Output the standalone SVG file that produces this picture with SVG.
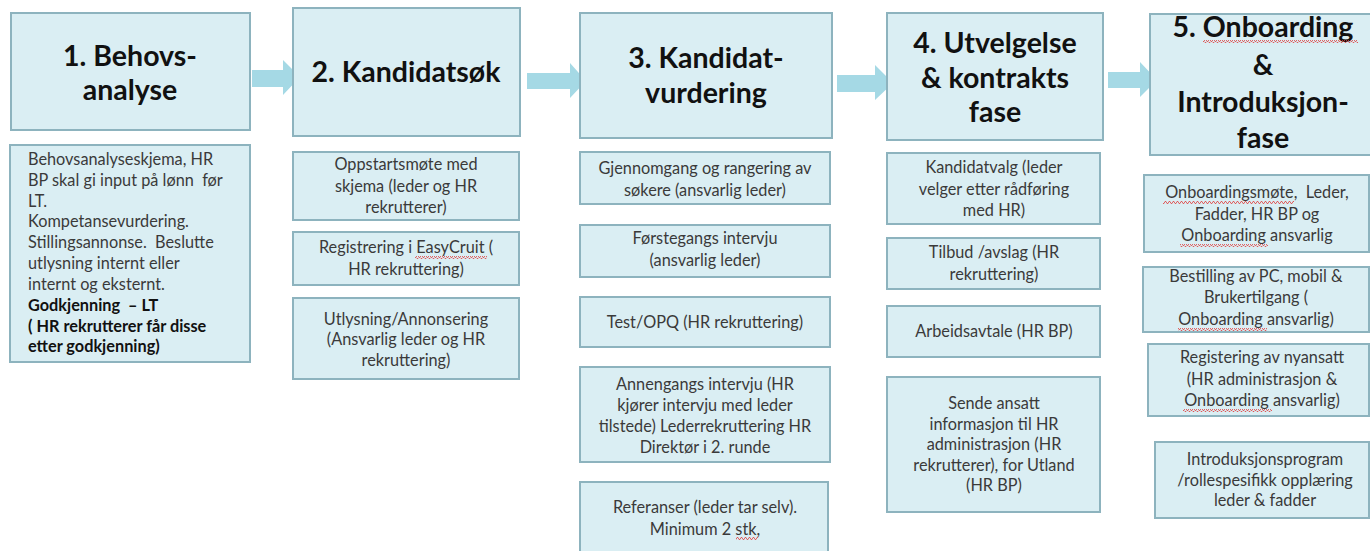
<svg xmlns="http://www.w3.org/2000/svg" width="1370" height="551" viewBox="0 0 1370 551">
<style>
.box{fill:#daeef3;stroke:#8db3be;stroke-width:2}
.arrow{fill:#a5d9e5}
text{white-space:pre}
.h{font-family:Lato,"Open Sans",sans-serif;font-weight:bold;font-size:28.5px;fill:#111;text-anchor:middle}
.t{font-family:Lato,"Open Sans",sans-serif;font-size:16.3px;fill:#3a3a3a;text-anchor:middle}
.tl{font-family:Lato,"Open Sans",sans-serif;font-size:16.3px;fill:#3a3a3a}
.b{font-weight:bold;fill:#111}
.sp{fill:url(#wave)}
</style>
<defs>
<pattern id="wave" width="4" height="3" patternUnits="userSpaceOnUse">
<path d="M0,2.5 L1,0.5 L2,0.5 L3,2.5 L4,2.5" fill="none" stroke="#e04040" stroke-width="0.8"/>
</pattern>
</defs>
<rect width="1370" height="551" fill="#fff"/>
<g id="connectors">
<polygon class="arrow" points="252,70 283,70 283,60 300,77 283,95 283,87 252,87"/>
<polygon class="arrow" points="527,73 570,73 570,63 586,81 570,98 570,89 527,89"/>
<polygon class="arrow" points="837,75 875,75 875,65 893,83 875,100 875,92 837,92"/>
<polygon class="arrow" points="1108,72 1140,72 1140,62 1157,80 1140,97 1140,88 1108,88"/>
</g>
<g id="phase1">
<rect class="box" x="11" y="13" width="239" height="117"/>
<text class="h" x="130" y="66">1. Behovs-</text>
<text class="h" x="130" y="100">analyse</text>
</g>
<g id="phase1-detail">
<rect class="box" x="10" y="145" width="240" height="217"/>
<text class="tl" x="28" y="165">Behovsanalyseskjema, HR</text>
<text class="tl" x="28" y="186">BP skal gi input på lønn  før</text>
<text class="tl" x="28" y="207">LT.</text>
<text class="tl" x="28" y="227">Kompetansevurdering.</text>
<text class="tl" x="28" y="248">Stillingsannonse.  Beslutte</text>
<text class="tl" x="28" y="269">utlysning internt eller</text>
<text class="tl" x="28" y="290">internt og eksternt.</text>
<text class="tl b" x="28" y="311">Godkjenning  – LT</text>
<text class="tl b" x="28" y="332">( HR rekrutterer får disse</text>
<text class="tl b" x="28" y="352">etter godkjenning)</text>
</g>
<g id="phase2">
<rect class="box" x="293" y="8" width="227" height="128"/>
<text class="h" x="406" y="82">2. Kandidatsøk</text>
</g>
<g id="phase2-a">
<rect class="box" x="293" y="152" width="226" height="68"/>
<text class="t" x="406" y="170">Oppstartsmøte med</text>
<text class="t" x="406" y="192">skjema (leder og HR</text>
<text class="t" x="406" y="213">rekrutterer)</text>
</g>
<g id="phase2-b">
<rect class="box" x="293" y="232" width="226" height="53"/>
<text class="t" x="406" y="253">Registrering i EasyCruit (</text>
<text class="t" x="406" y="275">HR rekruttering)</text>
<rect class="sp" x="415" y="256" width="72" height="3"/>
</g>
<g id="phase2-c">
<rect class="box" x="293" y="298" width="226" height="81"/>
<text class="t" x="406" y="325">Utlysning/Annonsering</text>
<text class="t" x="406" y="345">(Ansvarlig leder og HR</text>
<text class="t" x="406" y="366">rekruttering)</text>
</g>
<g id="phase3">
<rect class="box" x="580" y="13" width="252" height="125"/>
<text class="h" x="706" y="68">3. Kandidat-</text>
<text class="h" x="706" y="103">vurdering</text>
</g>
<g id="phase3-a">
<rect class="box" x="580" y="152" width="250" height="52"/>
<text class="t" x="705" y="174">Gjennomgang og rangering av</text>
<text class="t" x="705" y="196">søkere (ansvarlig leder)</text>
</g>
<g id="phase3-b">
<rect class="box" x="580" y="225" width="250" height="52"/>
<text class="t" x="705" y="244">Førstegangs intervju</text>
<text class="t" x="705" y="266">(ansvarlig leder)</text>
</g>
<g id="phase3-c">
<rect class="box" x="580" y="297" width="250" height="50"/>
<text class="t" x="705" y="328">Test/OPQ (HR rekruttering)</text>
</g>
<g id="phase3-d">
<rect class="box" x="580" y="367" width="250" height="95"/>
<text class="t" x="705" y="390">Annengangs intervju (HR</text>
<text class="t" x="705" y="411">kjører intervju med leder</text>
<text class="t" x="705" y="432">tilstede) Lederrekruttering HR</text>
<text class="t" x="705" y="453">Direktør i 2. runde</text>
</g>
<g id="phase3-e">
<rect class="box" x="580" y="482" width="248" height="80"/>
<text class="t" x="705" y="513">Referanser (leder tar selv).</text>
<text class="t" x="705" y="535">Minimum 2 stk,</text>
<rect class="sp" x="736" y="537" width="22" height="3"/>
</g>
<g id="phase4">
<rect class="box" x="887" y="13" width="216" height="127"/>
<text class="h" x="995" y="53">4. Utvelgelse</text>
<text class="h" x="995" y="88">&amp; kontrakts</text>
<text class="h" x="995" y="122">fase</text>
</g>
<g id="phase4-a">
<rect class="box" x="887" y="153" width="213" height="71"/>
<text class="t" x="994" y="173">Kandidatvalg (leder</text>
<text class="t" x="994" y="195">velger etter rådføring</text>
<text class="t" x="994" y="216">med HR)</text>
</g>
<g id="phase4-b">
<rect class="box" x="887" y="238" width="213" height="51"/>
<text class="t" x="994" y="258">Tilbud /avslag (HR</text>
<text class="t" x="994" y="280">rekruttering)</text>
</g>
<g id="phase4-c">
<rect class="box" x="887" y="306" width="213" height="51"/>
<text class="t" x="994" y="337">Arbeidsavtale (HR BP)</text>
</g>
<g id="phase4-d">
<rect class="box" x="887" y="377" width="213" height="135"/>
<text class="t" x="994" y="409">Sende ansatt</text>
<text class="t" x="994" y="430">informasjon til HR</text>
<text class="t" x="994" y="450">administrasjon (HR</text>
<text class="t" x="994" y="471">rekrutterer), for Utland</text>
<text class="t" x="994" y="491">(HR BP)</text>
</g>
<g id="phase5">
<rect class="box" x="1150" y="14" width="224" height="141"/>
<text class="h" x="1263" y="37">5. Onboarding</text>
<text class="h" x="1263" y="75">&amp;</text>
<text class="h" x="1263" y="112">Introduksjon-</text>
<text class="h" x="1263" y="148">fase</text>
<rect class="sp" x="1203" y="40" width="155" height="3"/>
</g>
<g id="phase5-a">
<rect class="box" x="1144" y="175" width="225" height="77"/>
<text class="t" x="1257" y="198">Onboardingsmøte,  Leder,</text>
<text class="t" x="1257" y="220">Fadder, HR BP og</text>
<text class="t" x="1257" y="241">Onboarding ansvarlig</text>
<rect class="sp" x="1163" y="201" width="131" height="3"/>
<rect class="sp" x="1180" y="244" width="88" height="3"/>
</g>
<g id="phase5-b">
<rect class="box" x="1143" y="267" width="226" height="65"/>
<text class="t" x="1256" y="282">Bestilling av PC, mobil &amp;</text>
<text class="t" x="1256" y="303">Brukertilgang (</text>
<text class="t" x="1256" y="325">Onboarding ansvarlig)</text>
<rect class="sp" x="1178" y="328" width="89" height="3"/>
</g>
<g id="phase5-c">
<rect class="box" x="1148" y="344" width="221" height="72"/>
<text class="t" x="1262" y="363">Registering av nyansatt</text>
<text class="t" x="1262" y="385">(HR administrasjon &amp;</text>
<text class="t" x="1262" y="406">Onboarding ansvarlig)</text>
<rect class="sp" x="1183" y="409" width="89" height="3"/>
</g>
<g id="phase5-d">
<rect class="box" x="1155" y="442" width="214" height="76"/>
<text class="t" x="1265" y="465">Introduksjonsprogram</text>
<text class="t" x="1265" y="486">/rollespesifikk opplæring</text>
<text class="t" x="1265" y="506">leder &amp; fadder</text>
</g>
</svg>
